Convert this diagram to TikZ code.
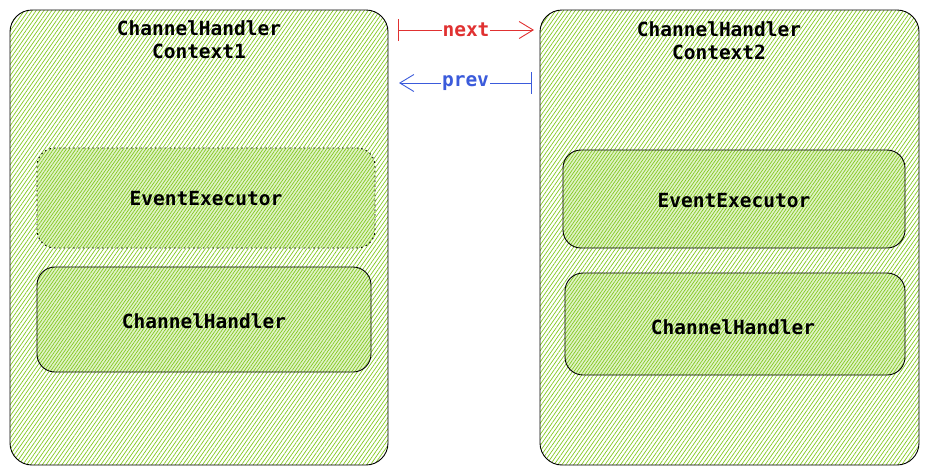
\documentclass[tikz,border=0pt]{standalone}
\usepackage{fontspec}
\setmonofont{DejaVu Sans Mono}
\usetikzlibrary{patterns.meta,arrows.meta}
\definecolor{hatch}{HTML}{82C91E}
\definecolor{nextred}{HTML}{E03131}
\definecolor{prevblue}{HTML}{3B5BDB}
\tikzset{
  outerbox/.style={draw=black, line width=0.9pt, rounded corners=22pt,
    pattern={Lines[angle=55,distance=3.2pt,line width=0.7pt]}, pattern color=hatch},
  innerfill/.style={rounded corners=18pt, preaction={fill=hatch!25},
    pattern={Lines[angle=55,distance=2.6pt,line width=0.7pt]}, pattern color=hatch},
  innerbox/.style={innerfill, draw=black, line width=0.9pt},
  lbl/.style={font=\ttfamily\bfseries\fontsize{19.5}{23}\selectfont, align=center, text=black},
  linkarrow/.style={line width=0.9pt},
}
\begin{document}
\begin{tikzpicture}[x=1pt,y=-1pt]
\useasboundingbox (0,0) rectangle (929,475);
% outer contexts
\draw[outerbox] (10,10) rectangle (388,465);
\draw[outerbox] (540,10) rectangle (919,465);
\node[lbl] (t1) at (199,40) {ChannelHandler\\Context1};
\node[lbl] (t2) at (719,41) {ChannelHandler\\Context2};
% inner boxes left
\fill[innerfill] (37,148) rectangle (375,248);
\draw[rounded corners=18pt, line width=0.9pt, dash pattern=on 1.6pt off 3.2pt] (37,148) rectangle (375,248);
\node[lbl] (ee1) at (206,199) {EventExecutor};
\draw[innerbox] (37,267) rectangle (371,372);
\node[lbl] (ch1) at (204,321) {ChannelHandler};
% inner boxes right
\draw[innerbox] (563,150) rectangle (905,248);
\node[lbl] (ee2) at (734,201) {EventExecutor};
\draw[innerbox] (565,273) rectangle (905,375);
\node[lbl] (ch2) at (733,327) {ChannelHandler};
% links
\coordinate (n1) at (398,30);
\coordinate (n2) at (534,30);
\coordinate (p1) at (532,83);
\coordinate (p2) at (399,83);
\draw[linkarrow, draw=nextred, {Bar[width=22pt,line width=0.9pt]}-{Straight Barb[length=14pt,width=17pt,line width=0.9pt]}]
  (n1) -- node[lbl, fill=white, inner sep=1pt, text=nextred] (nl) {next} (n2);
\draw[linkarrow, draw=prevblue, {Bar[width=22pt,line width=0.9pt]}-{Straight Barb[length=14pt,width=17pt,line width=0.9pt]}]
  (p1) -- node[lbl, fill=white, inner sep=1pt, text=prevblue] (pl) {prev} (p2);
\end{tikzpicture}
\end{document}
